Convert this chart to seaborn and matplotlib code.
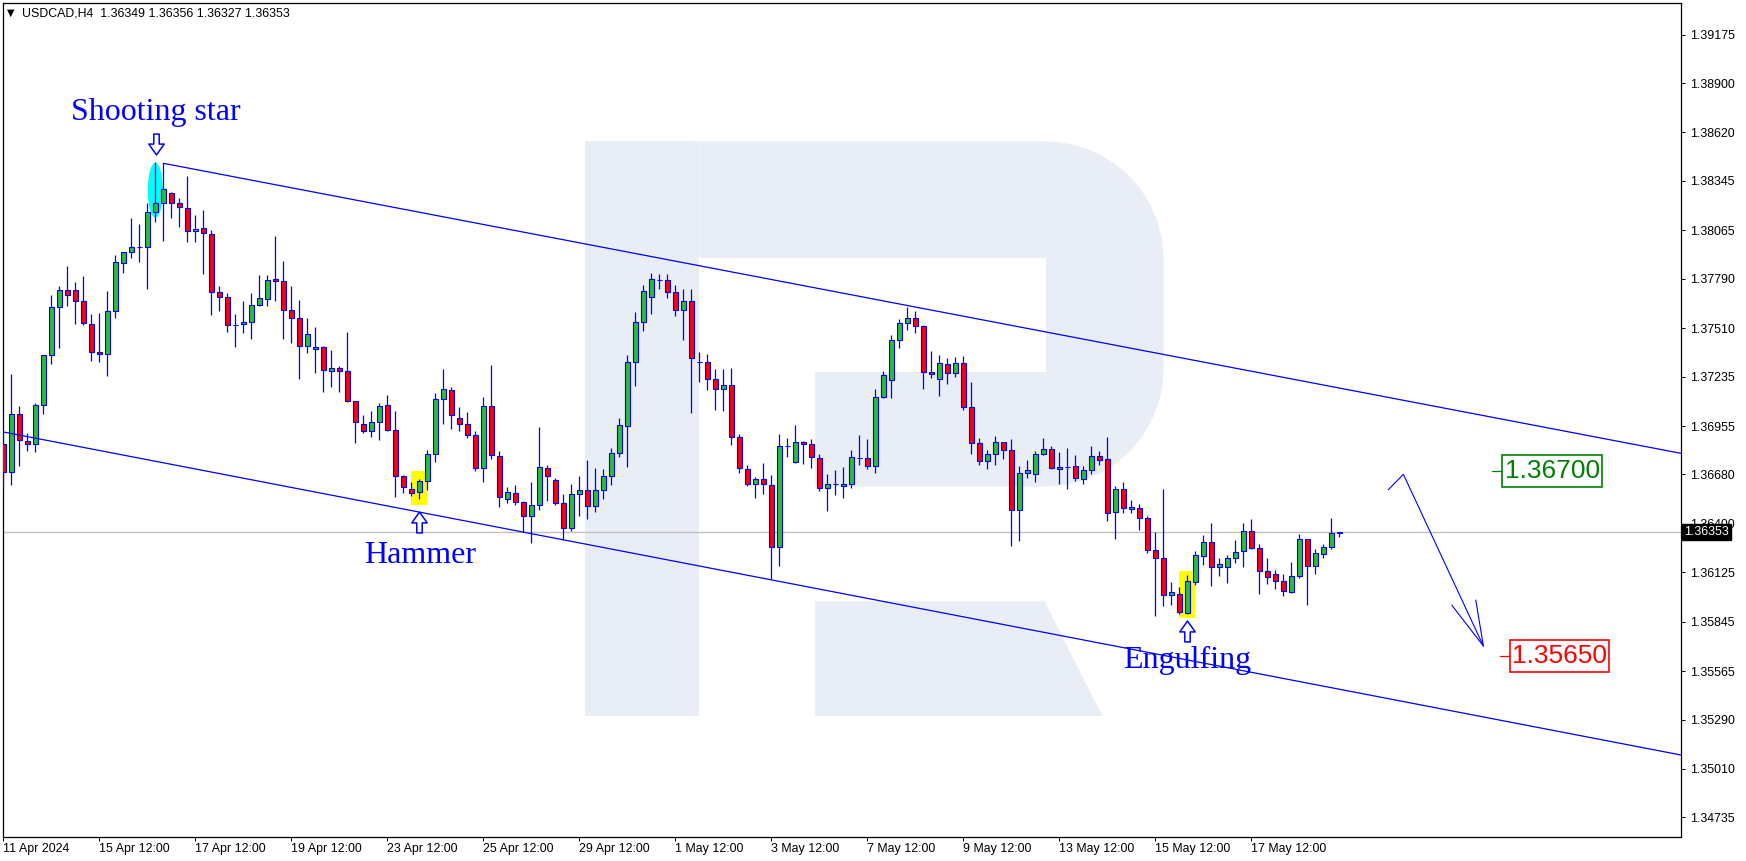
import numpy as np
import pandas as pd
import seaborn as sns
import matplotlib
matplotlib.use("Agg")
import matplotlib.pyplot as plt
from matplotlib.patches import Rectangle, Ellipse, Polygon
from matplotlib.path import Path
import matplotlib.transforms as mtransforms

# ---------------- data (USDCAD, H4) ----------------
opens = [1.36851, 1.36692, 1.37021, 1.36870, 1.36851, 1.37072, 1.37356, 1.37628, 1.37724, 1.37724,
         1.37662, 1.37531, 1.37374, 1.37361, 1.37605, 1.37877, 1.37940, 1.37968, 1.37968, 1.38167,
         1.38218, 1.38274, 1.38218, 1.38189, 1.38059, 1.38076, 1.38042, 1.37713, 1.37685, 1.37530,
         1.37531, 1.37543, 1.37639, 1.37673, 1.37787, 1.37777, 1.37613, 1.37565, 1.37407, 1.37390,
         1.37401, 1.37265, 1.37282, 1.37265, 1.37095, 1.36964, 1.36924, 1.36976, 1.37072, 1.36930,
         1.36669, 1.36595, 1.36578, 1.36641, 1.36794, 1.37106, 1.37157, 1.36998, 1.36964, 1.36902,
         1.36715, 1.37066, 1.36783, 1.36539, 1.36573, 1.36522, 1.36442, 1.36505, 1.36715, 1.36647,
         1.36516, 1.36374, 1.36567, 1.36590, 1.36499, 1.36590, 1.36669, 1.36800, 1.36953, 1.37316,
         1.37543, 1.37685, 1.37783, 1.37781, 1.37713, 1.37611, 1.37662, 1.37320, 1.37316, 1.37219,
         1.37163, 1.37185, 1.36890, 1.36709, 1.36624, 1.36652, 1.36618, 1.36266, 1.36843, 1.36749,
         1.36862, 1.36851, 1.36771, 1.36601, 1.36628, 1.36612, 1.36624, 1.36771, 1.36771, 1.36726,
         1.37117, 1.37214, 1.37440, 1.37540, 1.37570, 1.37520, 1.37259, 1.37219, 1.37305, 1.37253,
         1.37310, 1.37061, 1.36856, 1.36754, 1.36794, 1.36862, 1.36817, 1.36476, 1.36686, 1.36681,
         1.36794, 1.36822, 1.36709, 1.36722, 1.36726, 1.36652, 1.36703, 1.36783, 1.36766, 1.36465,
         1.36595, 1.36482, 1.36488, 1.36431, 1.36249, 1.36204, 1.35994, 1.36000, 1.35892, 1.36068,
         1.36215, 1.36295, 1.36153, 1.36153, 1.36204, 1.36244, 1.36357, 1.36261, 1.36130, 1.36113,
         1.36074, 1.36011, 1.36102, 1.36312, 1.36159, 1.36227, 1.36267, 1.36349]
highs = [1.36913, 1.37250, 1.37068, 1.36913, 1.37083, 1.37356, 1.37698, 1.37749, 1.37862, 1.37772,
         1.37806, 1.37590, 1.37596, 1.37720, 1.37925, 1.37940, 1.38135, 1.38101, 1.38218, 1.38450,
         1.38445, 1.38282, 1.38246, 1.38373, 1.38152, 1.38180, 1.38066, 1.37749, 1.37707, 1.37590,
         1.37664, 1.37707, 1.37811, 1.37811, 1.38032, 1.37893, 1.37749, 1.37669, 1.37567, 1.37516,
         1.37408, 1.37386, 1.37295, 1.37488, 1.37095, 1.37015, 1.37038, 1.37083, 1.37129, 1.37038,
         1.36679, 1.36635, 1.36652, 1.36817, 1.37140, 1.37276, 1.37174, 1.37061, 1.37032, 1.36924,
         1.37117, 1.37299, 1.36811, 1.36607, 1.36618, 1.36527, 1.36635, 1.36947, 1.36732, 1.36658,
         1.36567, 1.36624, 1.36671, 1.36762, 1.36715, 1.36709, 1.36828, 1.36998, 1.37356, 1.37600,
         1.37753, 1.37821, 1.37815, 1.37815, 1.37753, 1.37730, 1.37730, 1.37373, 1.37361, 1.37276,
         1.37276, 1.37282, 1.36909, 1.36732, 1.36664, 1.36745, 1.36675, 1.36909, 1.36885, 1.36960,
         1.36870, 1.36879, 1.36794, 1.36681, 1.36703, 1.36720, 1.36817, 1.36902, 1.36879, 1.37163,
         1.37265, 1.37470, 1.37560, 1.37630, 1.37610, 1.37530, 1.37380, 1.37360, 1.37340, 1.37345,
         1.37350, 1.37202, 1.36885, 1.36817, 1.36896, 1.36862, 1.36879, 1.36726, 1.36762, 1.36815,
         1.36885, 1.36839, 1.36805, 1.36828, 1.36788, 1.36726, 1.36839, 1.36811, 1.36890, 1.36614,
         1.36635, 1.36533, 1.36510, 1.36442, 1.36353, 1.36595, 1.36068, 1.36040, 1.36108, 1.36244,
         1.36335, 1.36405, 1.36204, 1.36221, 1.36308, 1.36405, 1.36425, 1.36284, 1.36204, 1.36136,
         1.36113, 1.36181, 1.36340, 1.36312, 1.36255, 1.36284, 1.36431, 1.36356]
lows = [1.36601, 1.36620, 1.36730, 1.36813, 1.36809, 1.37023, 1.37308, 1.37399, 1.37637, 1.37531,
        1.37530, 1.37325, 1.37320, 1.37240, 1.37569, 1.37824, 1.37910, 1.37887, 1.37734, 1.38114,
        1.38006, 1.38135, 1.38083, 1.38000, 1.38000, 1.37819, 1.37586, 1.37609, 1.37490, 1.37405,
        1.37484, 1.37450, 1.37637, 1.37637, 1.37666, 1.37450, 1.37427, 1.37223, 1.37367, 1.37257,
        1.37146, 1.37178, 1.37146, 1.37089, 1.36856, 1.36913, 1.36890, 1.36873, 1.36924, 1.36550,
        1.36573, 1.36556, 1.36539, 1.36590, 1.36749, 1.36964, 1.36936, 1.36924, 1.36885, 1.36698,
        1.36635, 1.36766, 1.36493, 1.36516, 1.36505, 1.36352, 1.36289, 1.36476, 1.36527, 1.36505,
        1.36306, 1.36357, 1.36444, 1.36425, 1.36465, 1.36543, 1.36618, 1.36781, 1.36724, 1.37184,
        1.37496, 1.37588, 1.37730, 1.37679, 1.37577, 1.37441, 1.37027, 1.37202, 1.37157, 1.37044,
        1.37038, 1.36849, 1.36686, 1.36612, 1.36544, 1.36567, 1.36085, 1.36159, 1.36781, 1.36743,
        1.36737, 1.36715, 1.36584, 1.36471, 1.36561, 1.36544, 1.36601, 1.36732, 1.36709, 1.36686,
        1.37112, 1.37112, 1.37400, 1.37500, 1.37480, 1.37163, 1.37230, 1.37123, 1.37191, 1.37231,
        1.37044, 1.36794, 1.36732, 1.36709, 1.36732, 1.36766, 1.36272, 1.36301, 1.36658, 1.36635,
        1.36788, 1.36709, 1.36624, 1.36595, 1.36641, 1.36624, 1.36681, 1.36732, 1.36414, 1.36312,
        1.36459, 1.36459, 1.36363, 1.36232, 1.35879, 1.35936, 1.35941, 1.35886, 1.35889, 1.36051,
        1.36164, 1.36045, 1.36102, 1.36062, 1.36176, 1.36153, 1.36255, 1.36000, 1.36057, 1.36028,
        1.35989, 1.36006, 1.36091, 1.35938, 1.36113, 1.36204, 1.36255, 1.36327]
closes = [1.36692, 1.37021, 1.36875, 1.36851, 1.37072, 1.37356, 1.37628, 1.37724, 1.37696, 1.37662,
          1.37537, 1.37374, 1.37361, 1.37605, 1.37883, 1.37940, 1.37968, 1.37968, 1.38167, 1.38218,
          1.38297, 1.38218, 1.38195, 1.38059, 1.38070, 1.38048, 1.37713, 1.37685, 1.37526, 1.37530,
          1.37543, 1.37639, 1.37679, 1.37781, 1.37775, 1.37613, 1.37565, 1.37407, 1.37475, 1.37401,
          1.37270, 1.37282, 1.37265, 1.37095, 1.36976, 1.36924, 1.36976, 1.37066, 1.36930, 1.36669,
          1.36607, 1.36573, 1.36641, 1.36794, 1.37106, 1.37163, 1.37015, 1.36964, 1.36902, 1.36715,
          1.37066, 1.36788, 1.36550, 1.36578, 1.36522, 1.36442, 1.36505, 1.36720, 1.36669, 1.36516,
          1.36374, 1.36567, 1.36590, 1.36499, 1.36590, 1.36669, 1.36800, 1.36959, 1.37316, 1.37543,
          1.37719, 1.37787, 1.37783, 1.37713, 1.37611, 1.37662, 1.37339, 1.37320, 1.37219, 1.37163,
          1.37185, 1.36890, 1.36715, 1.36624, 1.36652, 1.36624, 1.36266, 1.36839, 1.36843, 1.36862,
          1.36851, 1.36777, 1.36601, 1.36624, 1.36628, 1.36624, 1.36777, 1.36771, 1.36726, 1.37117,
          1.37242, 1.37440, 1.37540, 1.37570, 1.37520, 1.37259, 1.37248, 1.37310, 1.37253, 1.37310,
          1.37061, 1.36856, 1.36754, 1.36794, 1.36862, 1.36817, 1.36476, 1.36686, 1.36703, 1.36794,
          1.36822, 1.36715, 1.36720, 1.36722, 1.36658, 1.36703, 1.36783, 1.36760, 1.36459, 1.36595,
          1.36488, 1.36493, 1.36431, 1.36249, 1.36204, 1.35994, 1.36011, 1.35898, 1.36074, 1.36221,
          1.36295, 1.36153, 1.36170, 1.36204, 1.36238, 1.36357, 1.36261, 1.36130, 1.36096, 1.36074,
          1.36017, 1.36102, 1.36312, 1.36159, 1.36232, 1.36267, 1.36346, 1.36353]

date_labels = ["11 Apr 2024", "15 Apr 12:00", "17 Apr 12:00", "19 Apr 12:00", "23 Apr 12:00",
               "25 Apr 12:00", "29 Apr 12:00", "1 May 12:00", "3 May 12:00", "7 May 12:00",
               "9 May 12:00", "13 May 12:00", "15 May 12:00", "17 May 12:00"]
price_ticks = [1.39175, 1.38900, 1.38620, 1.38345, 1.38065, 1.37790, 1.37510, 1.37235, 1.36955,
               1.36680, 1.36400, 1.36125, 1.35845, 1.35565, 1.35290, 1.35010, 1.34735]
symbol_title = "USDCAD,H4"
last_price = 1.36353
target_up = 1.36700
target_down = 1.35650
upper_channel_x = [20, 209.7]
upper_channel_y = [1.38445, 1.36800]
lower_channel_x = [-0.1, 209.7]
lower_channel_y = [1.36922, 1.35089]
forecast_x = [173.1, 175.0, 185.0]
forecast_y = [1.36593, 1.36681, 1.35707]
pattern_names = ["Shooting star", "Hammer", "Engulfing"]

# ---------------- figure ----------------
W, H = 1746, 861
sns.set_theme(style="white")
plt.rcParams['font.family'] = ['Liberation Sans', 'DejaVu Sans']

fig = plt.figure(figsize=(W / 100, H / 100), dpi=100)
L, R, T, B = 2.5, 1681.0, 2.5, 837.0
ax = fig.add_axes([L / W, 1 - B / H, (R - L) / W, (B - T) / H])
ax.set_facecolor("white")
px = mtransforms.Affine2D().scale(1, -1).translate(0, H)  # pixel (top-left origin) -> display

BLUE = "#0000ff"
WM = "#e9eef6"

# ---- watermark "R" logo ----
def add_poly(pts, color, z):
    p = Polygon(pts, closed=True, facecolor=color, edgecolor="none", transform=px, zorder=z)
    ax.add_patch(p)

add_poly([(584.6, 141.4), (699.3, 141.4), (699.3, 716), (584.6, 716)], WM, 0.1)
r = 118
cx = 1163.6 - r
theta1 = np.linspace(np.pi / 2, 0, 20)
theta2 = np.linspace(0, -np.pi / 2, 20)
top_arc = [(cx + r * np.cos(t), 141.4 + r - r * np.sin(t)) for t in theta1]
bot_arc = [(cx + r * np.cos(t), 486.6 - r - r * np.sin(t)) for t in theta2]
add_poly([(699.3, 141.4)] + top_arc + bot_arc + [(699.3, 486.6)], WM, 0.1)
add_poly([(699.3, 258.3), (1045.5, 258.3), (1045.5, 372), (699.3, 372)], "white", 0.2)
add_poly([(699.3, 372), (815, 372), (815, 486.6), (699.3, 486.6)], "white", 0.2)
add_poly([(815, 601.3), (1044.5, 601.3), (1102.4, 716), (815, 716)], WM, 0.1)

# ---- highlight shapes ----
ax.add_patch(Ellipse((19, 1.38292), 1.9, 0.00312, facecolor="#00ffff", edgecolor="none", zorder=1))
ax.add_patch(Rectangle((51, 1.36507), 2, 0.00193, facecolor="#ffff00", edgecolor="none", zorder=1))
ax.add_patch(Rectangle((147, 1.35867), 2, 0.00265, facecolor="#ffff00", edgecolor="none", zorder=1))

# current price line
ax.axhline(last_price, color="#c0c0c0", lw=1.0, zorder=1.5)

# ---- candles ----
df = pd.DataFrame({"open": opens, "high": highs, "low": lows, "close": closes})
df["bar"] = np.arange(len(df))
df["bottom"] = df[["open", "close"]].min(axis=1)
df["height"] = (df["close"] - df["open"]).abs()
df["color"] = np.where(df["close"] > df["open"], "#2dbd2d",
                       np.where(df["close"] < df["open"], "#ff0000", "#2dbd2d"))
ax.vlines(df["bar"], df["low"], df["high"], color=BLUE, lw=0.9, zorder=3)
ax.bar(df["bar"], df["height"], bottom=df["bottom"], width=0.58, color=df["color"],
       edgecolor=BLUE, linewidth=0.8, zorder=4)

# ---- channel lines (seaborn) ----
sns.lineplot(x=upper_channel_x, y=upper_channel_y, ax=ax, color=BLUE, lw=0.9, zorder=5)
sns.lineplot(x=lower_channel_x, y=lower_channel_y, ax=ax, color=BLUE, lw=0.9, zorder=5)

# ---- forecast arrow ----
ax.plot(forecast_x, forecast_y, color=BLUE, lw=0.8, zorder=5)
ax.plot([181.05, 185.0, 184.05], [1.35939, 1.35707, 1.35968], color=BLUE, lw=0.8, zorder=5)

# ---- target boxes ----
def target_box(x0, x1, price, color):
    hh = 0.000908
    ax.add_patch(Rectangle((x0, price - hh), x1 - x0, 2 * hh, facecolor="white",
                           edgecolor=color, lw=1.2, zorder=6))
    ax.plot([x0 - 1.3, x0], [price, price], color=color, lw=0.9, zorder=6)
    ax.text((x0 + x1) / 2, price, f"{price:.5f}", color=color, fontsize=19,
            family="Liberation Sans", ha="center", va="center", zorder=7)

target_box(187.37, 199.8, target_up, "#008000")
target_box(188.38, 200.75, target_down, "#ff0000")

# ---- pattern labels and hollow arrows ----
ax.text(19.06, 1.38690, pattern_names[0], color=BLUE, fontsize=23, family="Liberation Serif",
        ha="center", va="baseline", zorder=7)
ax.text(52.05, 1.36176, pattern_names[1], color=BLUE, fontsize=23, family="Liberation Serif",
        ha="center", va="baseline", zorder=7)
ax.text(148.0, 1.35582, pattern_names[2], color=BLUE, fontsize=23, family="Liberation Serif",
        ha="center", va="baseline", zorder=7)

down_verts = [(-0.13, 0.5), (0.13, 0.5), (0.13, 0.02), (0.37, 0.02), (0.0, -0.5),
              (-0.37, 0.02), (-0.13, 0.02), (-0.13, 0.5)]
down_arrow = Path(down_verts, closed=True)
up_arrow = Path([(x, -y) for x, y in down_verts], closed=True)
ax.plot([19.05], [1.38556], marker=down_arrow, markersize=15, mfc="white", mec=BLUE,
        mew=1.1, ls="none", zorder=7)
ax.plot([52.0], [1.36413], marker=up_arrow, markersize=15, mfc="white", mec=BLUE,
        mew=1.1, ls="none", zorder=7)
ax.plot([148.0], [1.35793], marker=up_arrow, markersize=15, mfc="white", mec=BLUE,
        mew=1.1, ls="none", zorder=7)

# ---- axes formatting ----
ax.set_xlim(-0.1, 209.7)
ax.set_ylim(1.34624, 1.39357)
ax.set_xlabel("")
ax.set_ylabel("")
ax.yaxis.tick_right()
ax.set_yticks(price_ticks)
ax.set_yticklabels([f"{v:.5f}" for v in price_ticks])
tick_bars = list(range(0, 12 * len(date_labels), 12))
ax.set_xticks(tick_bars)
ax.set_xticklabels(date_labels)
for lbl in ax.get_xticklabels():
    lbl.set_horizontalalignment("left")
ax.tick_params(axis="x", direction="out", length=3, width=0.7, pad=1, labelsize=8.9,
               colors="black", bottom=True)
ax.tick_params(axis="y", direction="out", length=3, width=0.7, pad=3.6, labelsize=8.9,
               colors="black", right=True, left=False)
for s in ax.spines.values():
    s.set_color("black")
    s.set_linewidth(0.9)
if ax.get_legend() is not None:
    ax.get_legend().remove()

# current price label on the axis (covers the lower part of the 1.36400 tick label, as in MT4)
ax.text(1684, 532.3, f"{last_price:.5f}", transform=px, color="white", fontsize=8.9,
        ha="left", va="center", clip_on=False, zorder=10,
        bbox=dict(boxstyle="square,pad=0.15", facecolor="black", edgecolor="black"))

# title
ax.text(7, 13, "\u25bc", transform=px, fontsize=7, family="DejaVu Sans", color="black",
        ha="left", va="center", zorder=10)
ax.text(21.7, 13, f"{symbol_title}  {opens[-1]:.5f} {highs[-1]:.5f} {lows[-1]:.5f} {closes[-1]:.5f}",
        transform=px, fontsize=8.9, color="black", ha="left", va="center", zorder=10)

fig.savefig("out.png", dpi=100, facecolor="white")
